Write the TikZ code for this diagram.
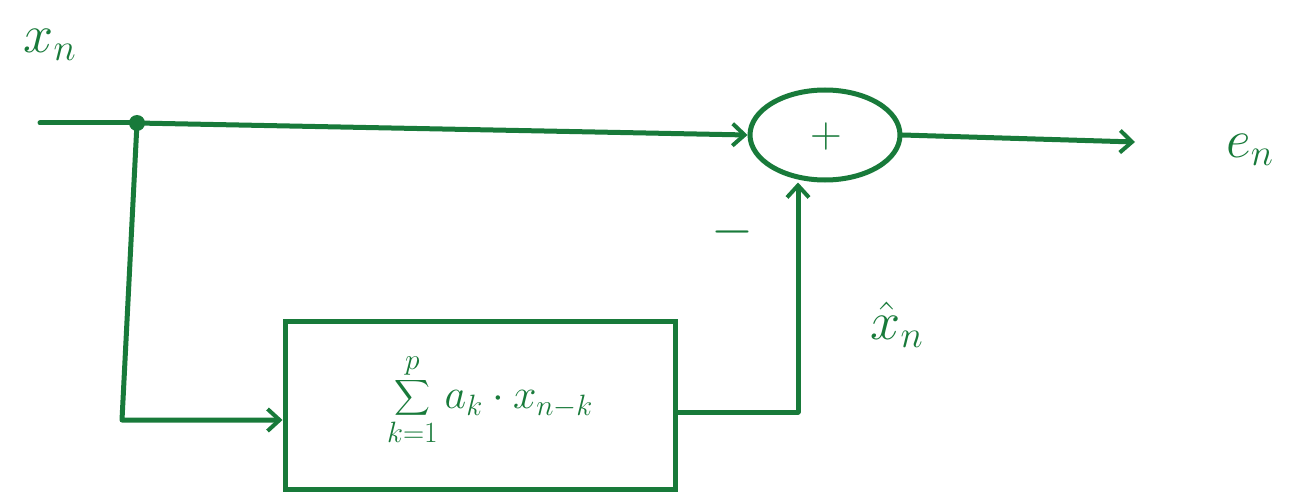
\RequirePackage{fix-cm}
\documentclass[tikz,border=0pt]{standalone}
\usepackage{amsmath}
\usepackage{exscale}
\usetikzlibrary{arrows.meta,shapes.geometric}
\definecolor{ink}{RGB}{24,122,58}
\begin{document}
\begin{tikzpicture}[x=1pt,y=-1pt,
  wire/.style={draw=ink,line width=5pt,line cap=round,line join=round},
  arr/.style={wire,-{Straight Barb[length=12pt,width=22pt,line width=4pt]}},
  lbl/.style={text=ink,font=\fontsize{54}{58}\selectfont,inner sep=0pt}]
\useasboundingbox (0,0) rectangle (1304,500);
% labels
\node[lbl] (xn) at (50,45) {$x_n$};
\node[lbl] (en) at (1250,150) {$e_n$};
\node[lbl] (xh) at (897,325) {$\hat{x}_n$};
\node[lbl] (minus) at (732,232) {$-$};
% points
\coordinate (in) at (40,123);
\coordinate (split) at (137,123);
\coordinate (c1) at (122,420);
\coordinate (c2) at (798,412);
\coordinate (out) at (1135,142);
% summer
\node[ellipse,draw=ink,line width=5pt,minimum width=150pt,minimum height=90pt,inner sep=0pt] (sum) at (825,135) {};
\node[lbl,font=\fontsize{44}{48}\selectfont] (plus) at (826,137) {$+$};
% box
\node[draw=ink,line width=5pt,minimum width=390pt,minimum height=168pt,inner sep=0pt] (box) at (480,405) {};
\node[lbl,font=\fontsize{42}{46}\selectfont] (f) at (490,400) {$\displaystyle\sum_{k=1}^{p} a_k\cdot x_{n-k}$};
% wires
\draw[wire] (in) -- (split);
\draw[arr] (split) -- (sum.west);
\fill[ink] (split) circle (8pt);
\draw[arr] (split) -- (c1) -- (box.west |- c1);
\draw[wire] (box.east |- c2) -- (c2);
\draw[arr] (c2) -- (c2 |- sum.south);
\draw[arr] (sum.east) -- (out);
\end{tikzpicture}
\end{document}
